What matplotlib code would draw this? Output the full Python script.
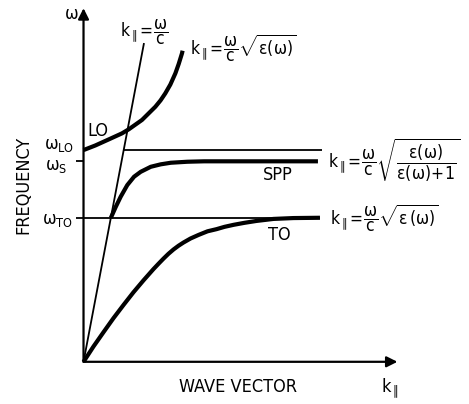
import matplotlib
matplotlib.use("Agg")
import matplotlib.pyplot as plt

FONT = "DejaVu Sans"
plt.rcParams["font.family"] = [FONT]
plt.rcParams["font.stretch"] = "condensed"
plt.rcParams["mathtext.fontset"] = "custom"
plt.rcParams["mathtext.rm"] = FONT + ":stretch=condensed"
plt.rcParams["mathtext.it"] = FONT + ":stretch=condensed"
plt.rcParams["mathtext.bf"] = FONT + ":stretch=condensed"
plt.rcParams["mathtext.sf"] = FONT + ":stretch=condensed"

# Frequencies in units of omega_TO, wave vector in the same arbitrary units
w_TO = 1.0
w_S = 1.392
w_LO = 1.47
k_end = 1.645

# light line  k = w / c
k_light = [0.0, 0.42]
w_light = [0.0, 2.213]

# lower bulk polariton branch (TO)
k_to = [0.0, 0.069, 0.139, 0.208, 0.278, 0.347, 0.417, 0.486, 0.521, 0.556,
        0.590, 0.625, 0.660, 0.694, 0.743, 0.799, 0.861, 0.924, 0.979, 1.042,
        1.118, 1.201, 1.319, 1.458, 1.642]
w_to = [0.0, 0.106, 0.206, 0.303, 0.395, 0.483, 0.566, 0.644, 0.681, 0.717,
        0.750, 0.780, 0.806, 0.828, 0.856, 0.881, 0.906, 0.921, 0.937, 0.951,
        0.965, 0.978, 0.992, 0.998, 1.0]

# surface plasmon polariton branch
k_spp = [0.19, 0.224, 0.258, 0.304, 0.351, 0.397, 0.467, 0.536, 0.606, 0.721,
         0.837, 1.628]
w_spp = [1.0, 1.076, 1.146, 1.227, 1.285, 1.319, 1.354, 1.371, 1.382, 1.389,
         1.392, 1.392]

# upper bulk polariton branch (LO)
k_lo = [0.0, 0.082, 0.175, 0.267, 0.314, 0.406, 0.499, 0.535, 0.568, 0.603,
        0.638, 0.661, 0.684, 0.688]
w_lo = [1.470, 1.502, 1.544, 1.586, 1.614, 1.679, 1.771, 1.815, 1.864, 1.925,
        2.003, 2.068, 2.142, 2.160]

fig = plt.figure(figsize=(4.69, 4.04), dpi=100)
ax = fig.add_axes([0, 0, 1, 1])
ax.set_xlim(-0.58, 2.677)
ax.set_ylim(-0.293, 2.512)
ax.axis("off")

# axes with arrows
arrow = dict(arrowstyle="-|>", lw=1.6, color="black", mutation_scale=16,
             shrinkA=0, shrinkB=0)
ax.annotate("", xy=(0, 2.455), xytext=(0, 0), arrowprops=arrow)
ax.annotate("", xy=(2.18, 0), xytext=(0, 0), arrowprops=arrow)

thin = dict(color="black", lw=1.3, solid_capstyle="butt")
thick = dict(color="black", lw=3.0, solid_capstyle="butt", solid_joinstyle="round")

# horizontal reference levels
ax.plot([-0.052, k_end], [w_TO, w_TO], **thin)
ax.plot([-0.052, 0], [w_S, w_S], **thin)
ax.plot([w_LO / (w_light[1] / k_light[1]), k_end + 0.01], [w_LO, w_LO], **thin)

# light line and dispersion branches
ax.plot(k_light, w_light, **thin)
ax.plot(k_to, w_to, **thick)
ax.plot(k_spp, w_spp, **thick)
ax.plot(k_lo, w_lo, **thick)


def px(x, y):
    return (x - 83.5) / 144.0, (361.7 - y) / 144.0


fs = 13
ax.text(*px(71, 14), r"$\omega$", fontsize=fs, ha="center", va="center")
ax.text(*px(59, 145), r"$\omega_{\mathrm{LO}}$", fontsize=fs, ha="center", va="center")
ax.text(*px(56, 166), r"$\omega_{\mathrm{S}}$", fontsize=fs, ha="center", va="center")
ax.text(*px(57, 220), r"$\omega_{\mathrm{TO}}$", fontsize=fs, ha="center", va="center")
ax.text(*px(98, 131), "LO", fontsize=fs, ha="center", va="center")
ax.text(*px(278, 175), "SPP", fontsize=fs, ha="center", va="center")
ax.text(*px(279, 235), "TO", fontsize=fs, ha="center", va="center")
ax.text(*px(23, 185), "FREQUENCY", fontsize=fs, ha="center", va="center",
        rotation=90)
ax.text(*px(238, 387), "WAVE VECTOR", fontsize=fs, ha="center", va="center")
ax.text(*px(390, 388), r"$k_{\parallel}$", fontsize=fs, ha="center", va="center")

ffs = 12.5
ax.text(*px(120, 32), r"$k_{\parallel}\!=\!\dfrac{\omega}{c}$", fontsize=ffs,
        ha="left", va="center")
ax.text(*px(190, 48), r"$k_{\parallel}\!=\!\dfrac{\omega}{c}\sqrt{\varepsilon(\omega)}$",
        fontsize=ffs, ha="left", va="center")
ax.text(*px(328, 160),
        r"$k_{\parallel}\!=\!\dfrac{\omega}{c}\sqrt{\dfrac{\varepsilon(\omega)}{\varepsilon(\omega)\!+\!1}}$",
        fontsize=ffs, ha="left", va="center")
ax.text(*px(330, 218), r"$k_{\parallel}\!=\!\dfrac{\omega}{c}\sqrt{\varepsilon\,(\omega)}$",
        fontsize=ffs, ha="left", va="center")

fig.savefig("out.png", dpi=100)
